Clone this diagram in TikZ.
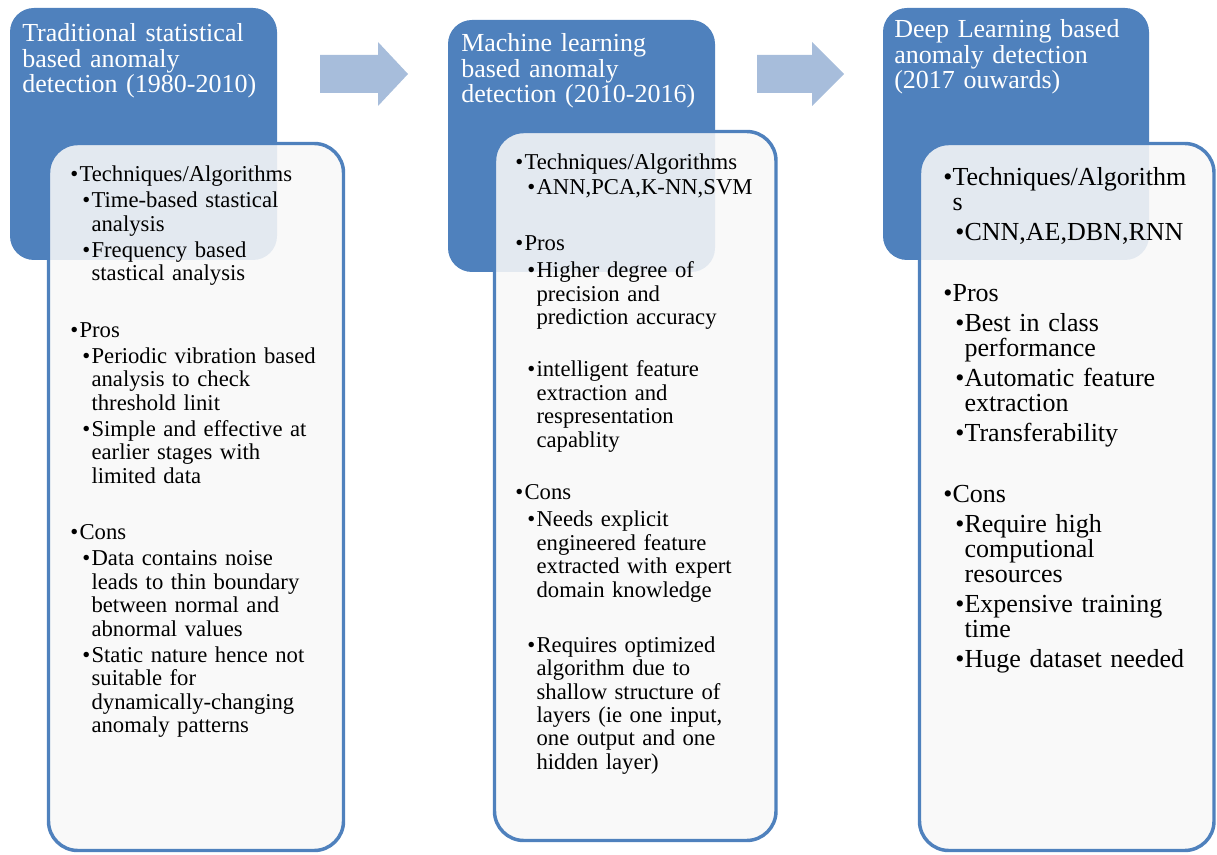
\documentclass[tikz,border=0pt]{standalone}
\usepackage{fontspec}
\setmainfont{Liberation Serif}
\usepackage{xcolor}
\usepackage{tikz}
\definecolor{hdrblue}{RGB}{79,129,189}
\definecolor{arrblue}{RGB}{167,189,219}
\definecolor{panelfill}{RGB}{248,248,248}
\tikzset{hdr/.style={fill=hdrblue,rounded corners=18pt},
  panel/.style={draw=hdrblue,line width=2.6pt,fill=panelfill,fill opacity=0.88,rounded corners=22pt},
  steparrow/.style={fill=arrblue},
  htext/.style={anchor=base west,inner sep=0pt,text width=250pt,align=left,text=white,font=\fontsize{19.5}{18.9}\selectfont},
  btext/.style={anchor=base west,inner sep=0pt,text width=250pt,align=left,font=\fontsize{17}{17.6}\selectfont},
  bbtext/.style={btext,font=\fontsize{19.5}{18.75}\selectfont}}
\newcommand{\itemA}[2][0pt]{\ifvmode\vspace{#1}\fi\noindent\hangindent=7pt\hangafter=1\makebox[7pt][l]{\textbullet}#2\par}
\newcommand{\itemB}[2][0pt]{\ifvmode\vspace{#1}\fi\noindent\hangindent=16pt\hangafter=1\hspace*{9pt}\makebox[7pt][l]{\textbullet}#2\par}

\begin{document}
\begin{tikzpicture}[x=0.75pt,y=-0.75pt]
    \useasboundingbox (0,0) rectangle (1217,855);
    \fill[hdr] (10,8) rectangle (277,260);
    \fill[hdr] (448,20) rectangle (715,272);
    \fill[hdr] (883,8) rectangle (1149,260);

    \fill[steparrow] (320,55) -- (378,55) -- (378,42) -- (408,74) -- (378,106) -- (378,93) -- (320,93) -- cycle;
    \fill[steparrow] (757,55) -- (812,55) -- (812,42) -- (844,74) -- (812,106) -- (812,93) -- (757,93) -- cycle;

    \filldraw[panel] (48.5,143.5) rectangle (343.5,850.5);
    \filldraw[panel] (494.5,131.5) rectangle (776,840.5);
    \filldraw[panel] (919.5,143.5) rectangle (1214,850.5);

    \node[htext] (hstat) at (22,42) {Traditional statistical\\based anomaly\\detection (1980-2010)};
    \node[htext] (hml) at (461,52) {Machine learning\\based anomaly\\detection (2010-2016)};
    \node[htext] (hdl) at (894,38) {Deep Learning based\\anomaly detection\\(2017 ouwards)};

    \node[btext] (bstat) at (70,182) {%
    \itemA{Techniques/Algorithms}
    \itemB[1.9pt]{Time-based stastical\newline analysis}
    \itemB[1.9pt]{Frequency based\newline stastical analysis}
    \itemA[24.75pt]{Pros}
    \itemB[1.9pt]{Periodic vibration based\newline analysis to check\newline threshold linit}
    \itemB[1.9pt]{Simple and effective at\newline earlier stages with\newline limited data}
    \itemA[24.75pt]{Cons}
    \itemB[1.9pt]{Data contains noise\newline leads to thin boundary\newline between normal and\newline abnormal values}
    \itemB[1.9pt]{Static nature hence not\newline suitable for\newline dynamically-changing\newline anomaly patterns}};

    \node[btext] (bml) at (515,170) {%
    \itemA{Techniques/Algorithms}
    \itemB[1pt]{ANN,PCA,K-NN,SVM}
    \itemA[24.4pt]{Pros}
    \itemB[2.6pt]{Higher degree of\newline precision and\newline prediction accuracy}
    \itemB[21.4pt]{intelligent feature\newline extraction and\newline respresentation\newline capablity}
    \itemA[22pt]{Cons}
    \itemB[2.6pt]{Needs explicit\newline engineered feature\newline extracted with expert\newline domain knowledge}
    \itemB[23.6pt]{Requires optimized\newline algorithm due to\newline shallow structure of\newline layers (ie one input,\newline one output and one\newline hidden layer)}};

    \node[bbtext] (bdl) at (943,186) {%
    \itemA{Techniques/Algorithm\newline s}
    \itemB[3.75pt]{CNN,AE,DBN,RNN}
    \itemA[27pt]{Pros}
    \itemB[3.75pt]{Best in class\newline performance}
    \itemB[3.75pt]{Automatic feature\newline extraction}
    \itemB[3.75pt]{Transferability}
    \itemA[27pt]{Cons}
    \itemB[3.75pt]{Require high\newline computional\newline resources}
    \itemB[3.75pt]{Expensive training\newline time}
    \itemB[3.75pt]{Huge dataset needed}};
\end{tikzpicture}
\end{document}
